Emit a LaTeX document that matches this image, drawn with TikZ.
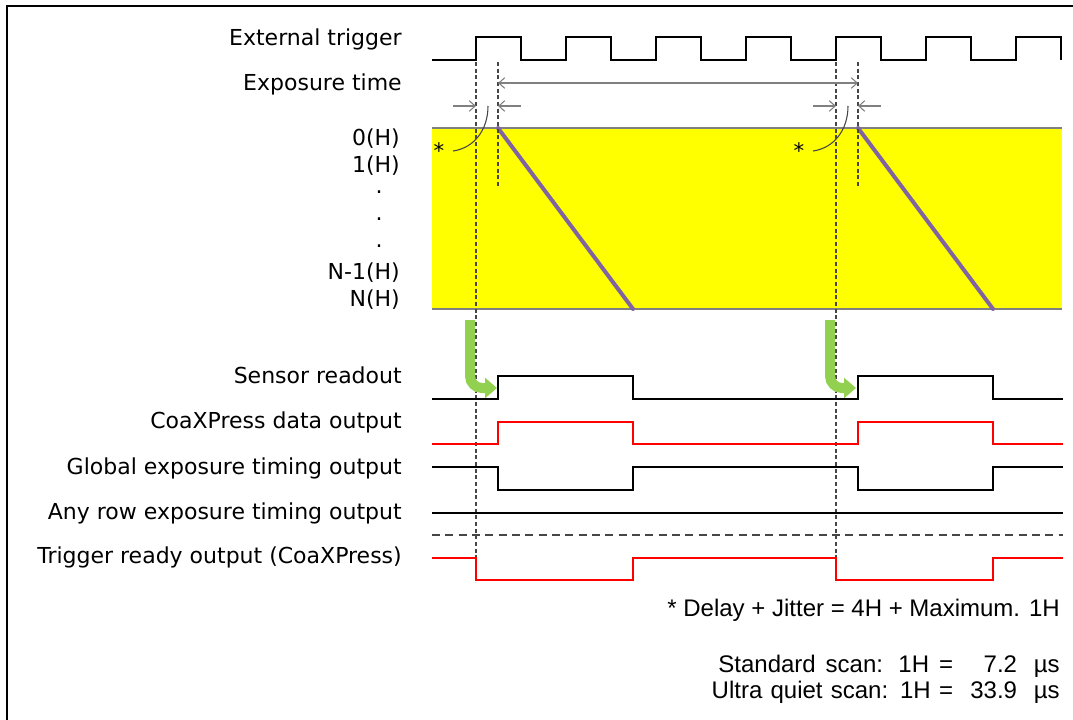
\documentclass[tikz,border=0pt]{standalone}
\usepackage{fontspec}
\setmainfont{DejaVu Sans}
\newfontfamily\arialfont{Liberation Sans}
\usetikzlibrary{positioning, arrows.meta, calc}
\definecolor{bandyellow}{RGB}{255,255,0}
\definecolor{scanpurple}{RGB}{128,100,162}
\definecolor{readgreen}{RGB}{146,208,80}
\definecolor{guidegray}{RGB}{70,70,70}

\begin{document}
\begin{tikzpicture}[
    x=0.75pt, y=-0.75pt,
    lbl/.style={anchor=base east, inner sep=0pt, font=\fontsize{16.5}{19}\selectfont},
    note/.style={anchor=base east, inner sep=0pt, font=\arialfont\fontsize{18}{21}\selectfont},
    wave/.style={line width=1.5pt, line join=miter},
    redwave/.style={wave, draw=red},
    guide/.style={densely dashed, line width=0.8pt, guidegray},
    span/.style={draw=gray, line width=0.8pt, -{Straight Barb[length=4.5pt,width=8pt]}},
    handoff/.style={readgreen, line width=7.5pt, rounded corners=9pt, -{Triangle[length=9pt,width=15pt]}}
]
    \useasboundingbox (0,0) rectangle (1073,719);
    \draw[line width=1.5pt] (7,6) rectangle (1100,740);

    % signal names
    \node[lbl] (lblTrig) at (402,45) {External trigger};
    \node[lbl] (lblExp) at (402,90) {Exposure time};
    \node[lbl] (row0) at (400,145) {0(H)};
    \node[lbl] (row1) at (400,172) {1(H)};
    \node[lbl] (dotA) at (383,193) {.};
    \node[lbl] (dotB) at (383,220) {.};
    \node[lbl] (dotC) at (383,247) {.};
    \node[lbl] (rowNm) at (400,279) {N-1(H)};
    \node[lbl] (rowN) at (400,306) {N(H)};
    \node[lbl] (lblRead) at (402,383) {Sensor readout};
    \node[lbl] (lblCxp) at (402,428) {CoaXPress data output};
    \node[lbl] (lblGlob) at (402,474) {Global exposure timing output};
    \node[lbl] (lblRow) at (402,519) {Any row exposure timing output};
    \node[lbl] (lblReady) at (402,563) {Trigger ready output (CoaXPress)};

    % exposure band
    \fill[bandyellow] (432,128) rectangle (1062,309);
    \draw[gray, line width=1.2pt] (432,128) -- (1062,128);
    \draw[gray, line width=1.2pt] (432,309) -- (1062,309);
    \draw[scanpurple, line width=3pt, line cap=round] (498,128) -- (633,309);
    \draw[scanpurple, line width=3pt, line cap=round] (858,128) -- (993,309);

    % external trigger
    \draw[wave] (432,60) \foreach \k in {0,...,6} {
        -- ({476+90*\k},60) -- ({476+90*\k},37) -- ({521+90*\k},37) -- ({521+90*\k},60) };

    % guides
    \coordinate (trgA) at (476,62);
    \coordinate (expA) at (498,62);
    \coordinate (trgB) at (836,62);
    \coordinate (expB) at (858,62);
    \draw[guide] (trgA) -- (476,582);
    \draw[guide] (expA) -- (498,188);
    \draw[guide] (trgB) -- (836,582);
    \draw[guide] (expB) -- (858,188);

    % exposure time and delay marks
    \coordinate (spanL) at (498,83);
    \coordinate (spanR) at (858,83);
    \draw[span, {Straight Barb[length=4.5pt,width=8pt]}-{Straight Barb[length=4.5pt,width=8pt]}] (spanL) -- (spanR);
    \foreach \t/\e/\n in {476/498/A, 836/858/B} {
        \coordinate (dlyL\n) at ({\t-23},106);
        \coordinate (dlyT\n) at (\t,106);
        \coordinate (dlyR\n) at ({\e+23},106);
        \coordinate (dlyE\n) at (\e,106);
        \draw[span] (dlyL\n) -- (dlyT\n);
        \draw[span] (dlyR\n) -- (dlyE\n);
        \node[inner sep=0pt, font=\fontsize{16}{19}\selectfont] (star\n) at ({\t-37},151) {*};
        \draw[guidegray, line width=0.8pt] ({\t-23},151) .. controls ({\t-2},148) and ({\t+12},130) .. ({\t+12},106);
    }

    % readout hand-off
    \draw[handoff] (470,320) -- (470,388) -- (497,388);
    \draw[handoff] (830,320) -- (830,388) -- (856,388);

    % outputs
    \draw[wave] (432,399) -- (498,399) -- (498,376) -- (633,376) -- (633,399)
        -- (858,399) -- (858,376) -- (993,376) -- (993,399) -- (1063,399);
    \draw[redwave] (432,444) -- (498,444) -- (498,422) -- (633,422) -- (633,444)
        -- (858,444) -- (858,422) -- (993,422) -- (993,444) -- (1063,444);
    \draw[wave] (432,467) -- (498,467) -- (498,490) -- (633,490) -- (633,467)
        -- (858,467) -- (858,490) -- (993,490) -- (993,467) -- (1063,467);
    \draw[wave] (432,513) -- (1063,513);
    \draw[guidegray, line width=0.9pt, dash pattern=on 6pt off 4pt] (432,535) -- (1063,535);
    \draw[redwave] (432,558) -- (476,558) -- (476,580) -- (633,580) -- (633,558)
        -- (836,558) -- (836,580) -- (993,580) -- (993,558) -- (1063,558);

    % notes
    \node[note] (noteDelay) at (1060,616) {* Delay + Jitter = 4H + Maximum. 1H};
    \node[note] (noteStd) at (1060,672) {\makebox[176pt][s]{Standard scan: 1H =}\makebox[80pt][r]{7.2\hspace{0.7em}µs}};
    \node[note] (noteUq) at (1060,698) {\makebox[181pt][s]{Ultra quiet scan: 1H =}\makebox[80pt][r]{33.9\hspace{0.7em}µs}};
\end{tikzpicture}
\end{document}
